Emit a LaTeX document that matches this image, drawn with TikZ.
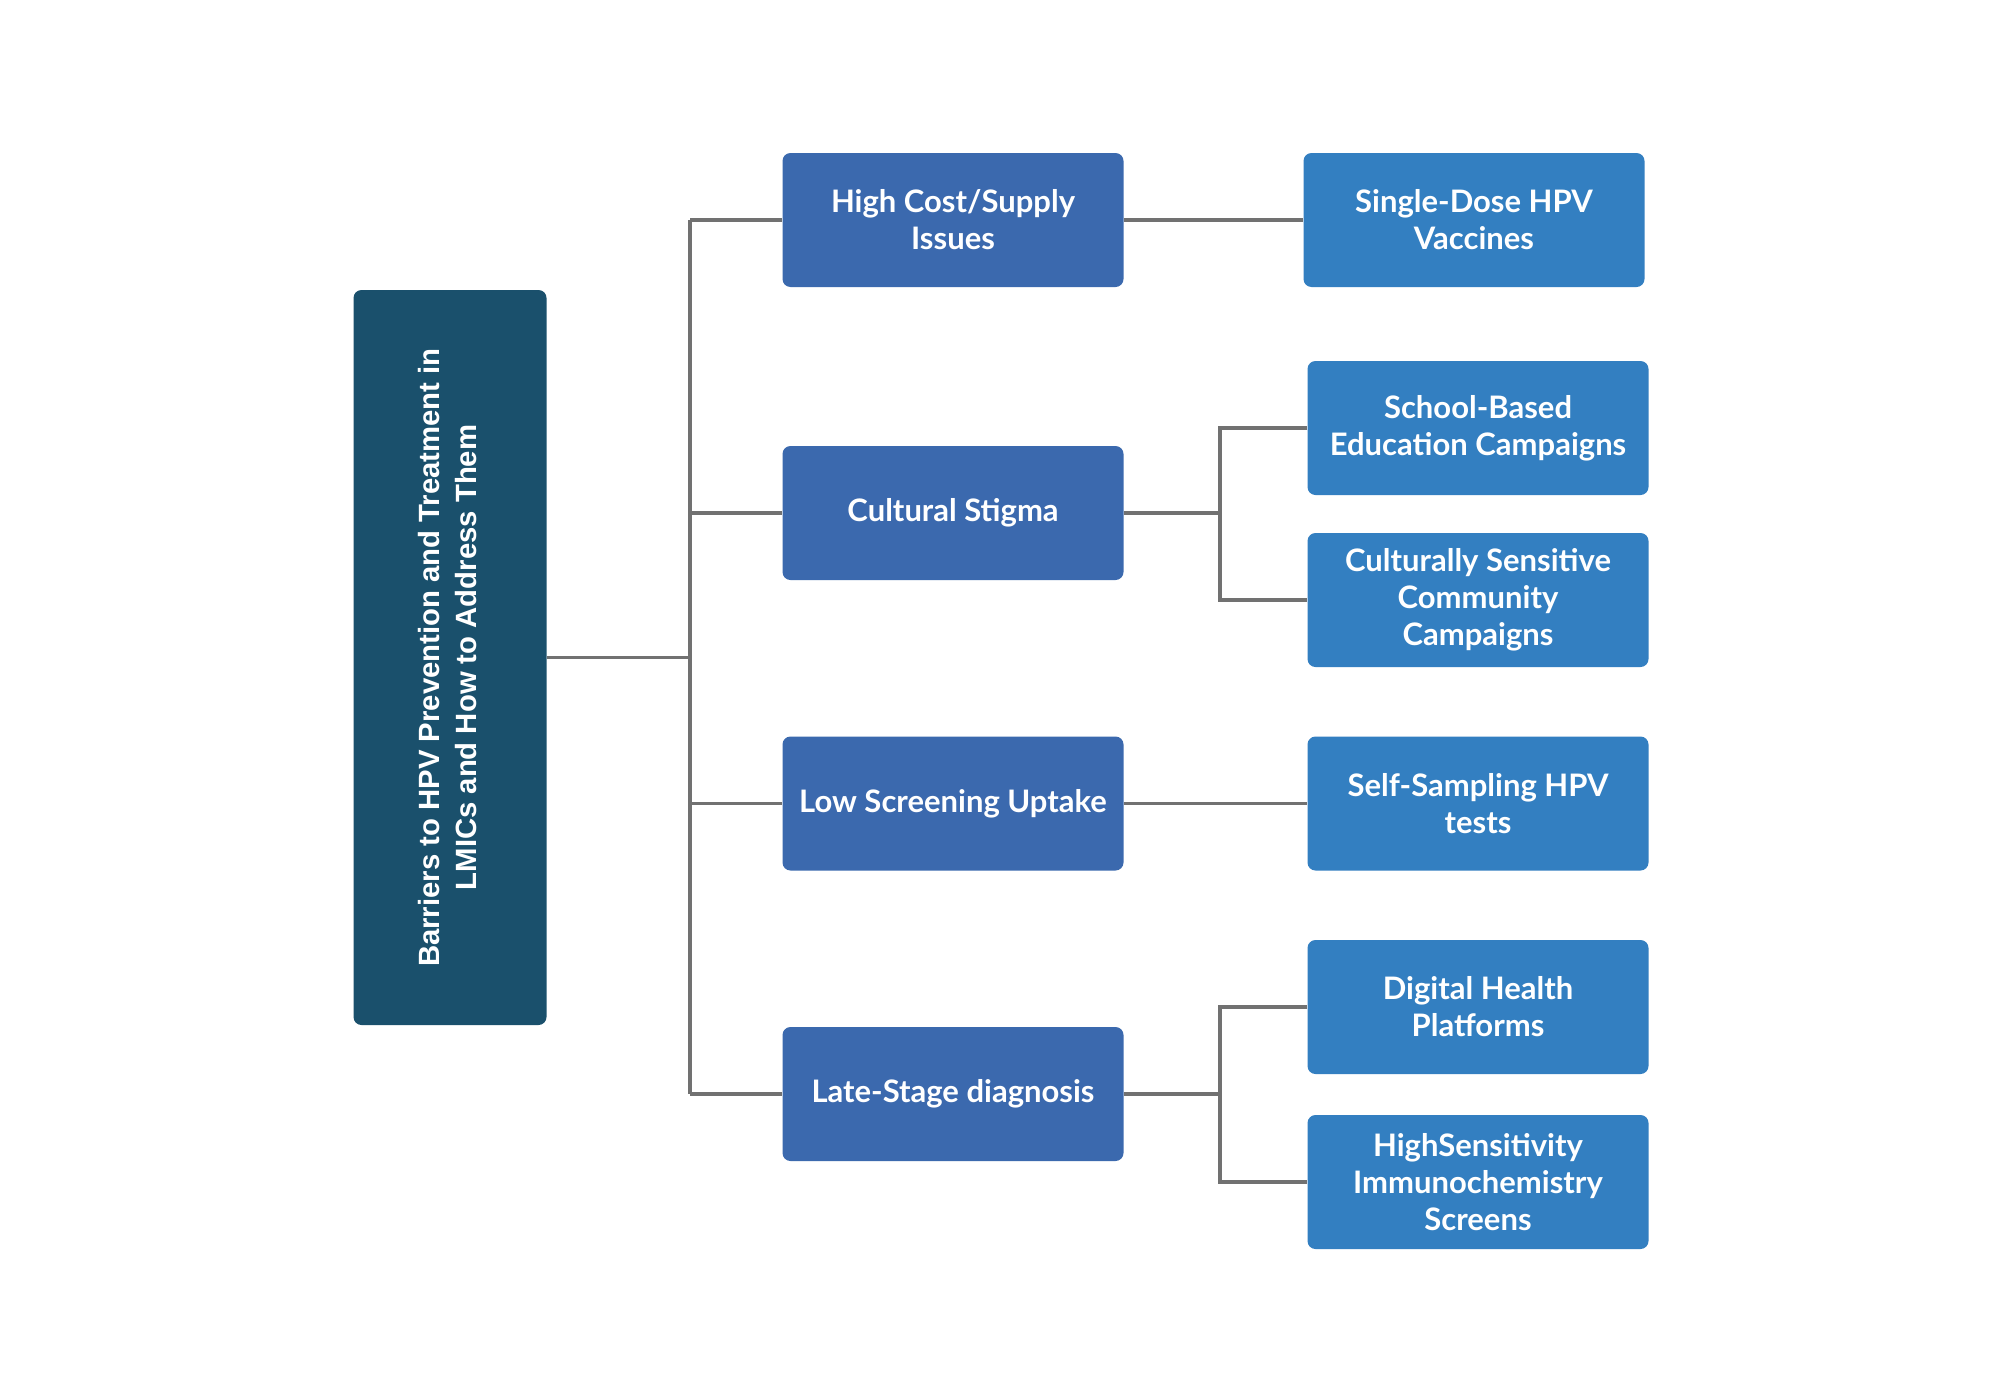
\documentclass[tikz,border=0pt]{standalone}
\usepackage{fontspec}
\setmainfont{Lato}
\newfontfamily\titlefont{Liberation Sans}
\definecolor{rootc}{HTML}{1A506C}
\definecolor{midc}{HTML}{3B69AE}
\definecolor{leafc}{HTML}{337FC1}
\definecolor{linec}{HTML}{717171}
\begin{document}
\begin{tikzpicture}[x=1pt,y=-1pt,
  box/.style={rectangle, rounded corners=8pt, inner sep=0pt, text=white, align=center,
    minimum width=341pt, minimum height=134pt,
    font=\fontsize{31}{37}\selectfont\bfseries},
  midbox/.style={box, fill=midc},
  leafbox/.style={box, fill=leafc},
  rootbox/.style={rectangle, rounded corners=8pt, inner sep=0pt, fill=rootc, text=white,
    align=center, minimum width=193pt, minimum height=735pt,
    font=\titlefont\fontsize{29.3}{39}\selectfont\bfseries},
  conn/.style={draw=linec, line width=3.5pt}]
\path[fill=white, use as bounding box] (0,0) rectangle (2000,1400);

\node[rootbox] (root) at (450,657.5) {\rotatebox{90}{\begin{tabular}{@{}c@{}}Barriers to HPV Prevention and Treatment in\\[-2pt] LMICs and How to Address Them\end{tabular}}};

\node[midbox] (hc) at (953,220) {High Cost/Supply\\Issues};
\node[midbox] (cs) at (953,513) {Cultural Stigma};
\node[midbox] (ls) at (953,803.5) {Low Screening Uptake};
\node[midbox] (ld) at (953,1094) {Late-Stage diagnosis};

\node[leafbox] (sd) at (1474,220) {Single-Dose HPV\\Vaccines};
\node[leafbox] (sb) at (1478,428) {School-Based\\Education Campaigns};
\node[leafbox] (cc) at (1478,600) {Culturally Sensitive\\Community\\Campaigns};
\node[leafbox] (ss) at (1478,803.5) {Self-Sampling HPV\\tests};
\node[leafbox] (dh) at (1478,1007) {Digital Health\\Platforms};
\node[leafbox] (hs) at (1478,1182) {HighSensitivity\\Immunochemistry\\Screens};

\coordinate (tk) at (690,0);
\coordinate (jx) at (1220,0);

\draw[conn] (root.east) -- (root.east -| tk);
\draw[conn] (tk |- hc.west) -- (tk |- ld.west);
\draw[conn] (hc.west -| tk) -- (hc.west);
\draw[conn] (cs.west -| tk) -- (cs.west);
\draw[conn] (ls.west -| tk) -- (ls.west);
\draw[conn] (ld.west -| tk) -- (ld.west);

\draw[conn] (hc.east) -- (sd.west);
\draw[conn] (ls.east) -- (ss.west);

\draw[conn] (cs.east) -- (cs.east -| jx);
\draw[conn] (sb.west) -| (jx |- cc.west) -- (cc.west);
\draw[conn] (ld.east) -- (ld.east -| jx);
\draw[conn] (dh.west) -| (jx |- hs.west) -- (hs.west);
\end{tikzpicture}
\end{document}
